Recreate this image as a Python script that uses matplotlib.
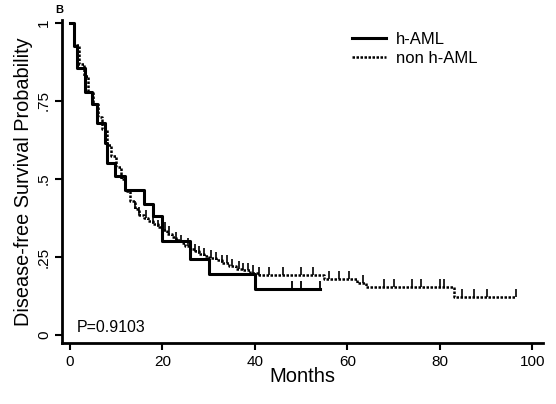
import numpy as np
import matplotlib.pyplot as plt

plt.rcParams['font.family'] = ['Liberation Sans', 'DejaVu Sans']

# h-AML: step times (months) and survival after each step
haml_t = [0, 1.0, 1.5, 3.2, 4.7, 5.8, 7.5, 8.0, 9.7, 12.0, 16.0, 18.0, 20.0, 26.0, 30.0, 40.0]
haml_s = [1.0, 0.925, 0.855, 0.78, 0.74, 0.68, 0.615, 0.55, 0.51, 0.465, 0.42, 0.38, 0.30, 0.245, 0.195, 0.147]
haml_end = 54.0
haml_cens = [48.0, 50.0, 54.0]

# non h-AML
non_t = [0, 1, 2, 3, 4, 5, 6, 7, 8, 9, 10, 11, 12, 13, 14, 15, 16, 17, 18, 19, 20,
         21, 22, 23, 24, 25, 26, 27, 28, 29, 30, 31.5, 33, 34.5, 36, 37.5, 39, 41,
         55, 62, 64, 83]
non_s = [1.0, 0.93, 0.87, 0.83, 0.78, 0.74, 0.70, 0.66, 0.61, 0.575, 0.54, 0.50, 0.46,
         0.43, 0.405, 0.385, 0.375, 0.365, 0.355, 0.345, 0.336, 0.325, 0.315, 0.305,
         0.295, 0.285, 0.275, 0.268, 0.26, 0.253, 0.247, 0.24, 0.23, 0.22, 0.213,
         0.207, 0.20, 0.192, 0.18, 0.167, 0.155, 0.122]
non_end = 96.5
non_cens = [14, 15, 16.5, 18, 19, 20.5, 21.5, 23, 24, 25.5, 27, 28, 29, 30.5, 31.5,
            33, 34, 35, 36.5, 37.5, 38.5, 39.5, 41, 43, 46, 50, 52.5, 56, 58.3, 60.3,
            63.3, 68, 70.2, 74, 76, 80.1, 81, 84.9, 87.3, 90.3, 96.5]

p_text = "P=0.9103"


def surv_at(t, times, surv):
    i = np.searchsorted(times, t, side='right') - 1
    return np.array(surv)[i]


fig = plt.figure(figsize=(5.56, 4.04), dpi=100)
ax = fig.add_axes([0.1115, 0.151, 0.865, 0.7995])

# solid curve
ax.step(haml_t + [haml_end], haml_s + [haml_s[-1]], where='post',
        color='black', lw=2.2, label='h-AML')
hc = np.array(haml_cens)
hs = surv_at(hc, haml_t, haml_s)
ax.vlines(hc, hs, hs + 0.025, color='black', lw=1.3)

# dotted curve
ax.step(non_t + [non_end], non_s + [non_s[-1]], where='post',
        color='black', lw=1.8, linestyle=(0, (1, 0.6)), label='non h-AML')
nc = np.array(non_cens)
ns = surv_at(nc, non_t, non_s)
ax.vlines(nc, ns, ns + 0.025, color='black', lw=1.2)

ax.set_xlim(-1.7, 102.3)
ax.set_ylim(-0.0256, 1.0096)
ax.set_xticks([0, 20, 40, 60, 80, 100])
ax.set_yticks([0, 0.25, 0.5, 0.75, 1])
ax.set_yticklabels(['0', '.25', '.5', '.75', '1'], rotation=90, va='center')
ax.tick_params(axis='both', direction='out', length=5, width=1.5, labelsize=11)
ax.tick_params(axis='y', pad=3)

for s in ['top', 'right']:
    ax.spines[s].set_visible(False)
for s in ['left', 'bottom']:
    ax.spines[s].set_linewidth(2)

ax.set_xlabel('Months', fontsize=14.5, labelpad=-1)
ax.set_ylabel('Disease-free Survival Probability', fontsize=14.3, labelpad=3)

ax.text(0.03, 0.035, p_text, transform=ax.transAxes, fontsize=11.5)
fig.text(0.1, 0.968, 'B', fontsize=8, fontweight='bold')

ax.legend(loc='upper left', bbox_to_anchor=(0.59, 0.985), frameon=False,
          fontsize=12, handlelength=2.0, handletextpad=0.6,
          labelspacing=0.25, borderaxespad=0)

fig.savefig('out.png', dpi=100)
